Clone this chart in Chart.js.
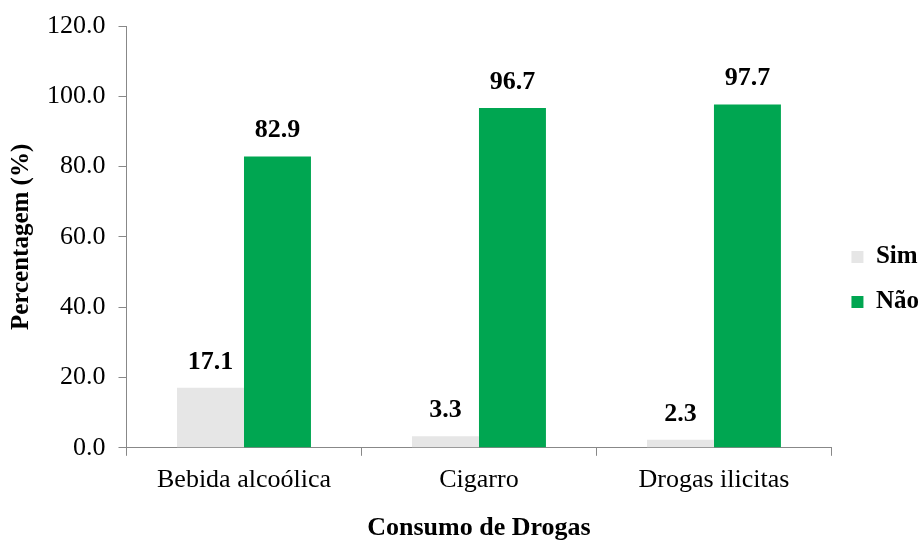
<!DOCTYPE html>
<html>
<head>
<meta charset="utf-8">
<script src="https://cdn.jsdelivr.net/npm/chart.js@4"></script>
<style>
  html, body { margin: 0; padding: 0; background: #fff; }
  #wrap { width: 920px; height: 541px; }
</style>
</head>
<body>
<div id="wrap"><canvas id="myBarChart"></canvas></div>
<script>
// Data: drug use (percent)
const categories = ["Bebida alcoólica", "Cigarro", "Drogas ilicitas"];
const simValues = [17.1, 3.3, 2.3];
const naoValues = [82.9, 96.7, 97.7];
const seriesNames = ["Sim", "Não"];

const serif = "'Liberation Serif', 'Times New Roman', serif";

// value labels above each bar
const barLabels = {
    id: 'barLabels',
    afterDatasetsDraw(chart) {
        const ctx = chart.ctx;
        ctx.save();
        ctx.font = "bold 26px " + serif;
        ctx.fillStyle = "#000";
        ctx.textAlign = "center";
        ctx.textBaseline = "alphabetic";
        chart.data.datasets.forEach((ds, i) => {
            chart.getDatasetMeta(i).data.forEach((bar, j) => {
                ctx.fillText(ds.data[j].toFixed(1), bar.x, bar.y - 19);
            });
        });
        ctx.restore();
    }
};

const cv = document.getElementById("myBarChart").getContext('2d');
const myBarChart = new Chart(cv, {
    type: 'bar',
    data: {
        labels: categories,
        datasets: [{
            label: seriesNames[0],
            backgroundColor: "#e6e6e6",
            data: simValues,
            categoryPercentage: 0.57,
            barPercentage: 1.0
        }, {
            label: seriesNames[1],
            backgroundColor: "#00a651",
            data: naoValues,
            categoryPercentage: 0.57,
            barPercentage: 1.0
        }]
    },
    options: {
        responsive: true,
        maintainAspectRatio: false,
        animation: false,
        layout: {
            padding: { top: 18, left: 3, right: -9, bottom: 0 }
        },
        scales: {
            x: {
                grid: {
                    display: true,
                    drawOnChartArea: false,
                    color: "#888",
                    tickLength: 8
                },
                border: { color: "#888", width: 1 },
                ticks: {
                    color: "#000",
                    font: { family: serif, size: 26, lineHeight: 1.2 },
                    padding: 9
                },
                title: {
                    display: true,
                    text: 'Consumo de Drogas',
                    color: "#000",
                    font: { family: serif, size: 26, weight: 'bold', lineHeight: 1 },
                    padding: { top: 10, bottom: 0 }
                }
            },
            y: {
                min: 0,
                max: 120,
                ticks: {
                    stepSize: 20,
                    color: "#000",
                    font: { family: serif, size: 26, lineHeight: 1 },
                    padding: 13,
                    callback: v => v.toFixed(1)
                },
                grid: {
                    display: true,
                    drawOnChartArea: false,
                    color: "#888",
                    tickLength: 8
                },
                border: { color: "#888", width: 1 },
                title: {
                    display: true,
                    text: 'Percentagem (%)',
                    color: "#000",
                    font: { family: serif, size: 25, weight: 'bold', lineHeight: 1 },
                    padding: { top: 6, bottom: 0 }
                }
            },
        },
        plugins: {
            legend: {
                display: true,
                position: 'right',
                labels: {
                    boxWidth: 12,
                    boxHeight: 12,
                    padding: 20,
                    color: "#000",
                    font: { family: serif, size: 25, weight: 'bold' }
                }
            },
            tooltip: { enabled: false }
        }
    },
    plugins: [barLabels]
});
</script>
</body>
</html>
